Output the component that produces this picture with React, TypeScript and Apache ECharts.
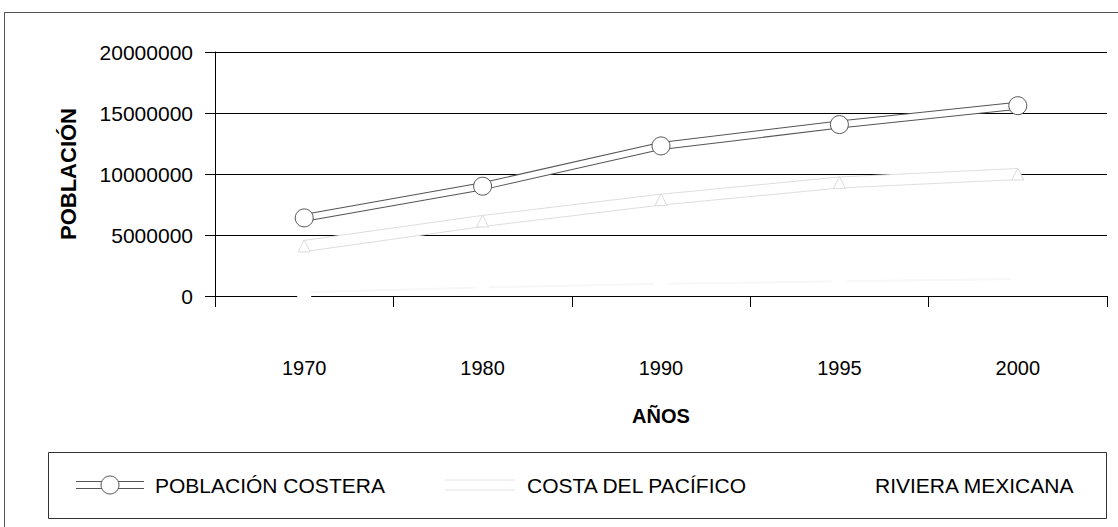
import React, { useEffect, useRef } from "react";
import * as echarts from "echarts";

const years = ["1970", "1980", "1990", "1995", "2000"];
const poblacionCostera = [6400000, 9000000, 12300000, 14050000, 15600000];
const costaPacifico = [4100000, 6150000, 7900000, 9300000, 10000000];
const rivieraMexicana = [300000, 700000, 1000000, 1200000, 1400000];
const yTicks = [0, 5000000, 10000000, 15000000, 20000000];

const FONT = "'Liberation Sans', Arial, sans-serif";

export default function App() {
  const ref = useRef<HTMLDivElement>(null);
  useEffect(() => {
    document.body.style.margin = "0";
    const chart = echarts.init(ref.current!, null, { renderer: "svg" });
    const legendItem = (name: string, textLeft: number) => ({
      data: [name],
      left: textLeft - 6,
      top: 475,
      padding: 0,
      itemWidth: 1,
      itemHeight: 1,
      itemGap: 0,
      selectedMode: false,
      itemStyle: { opacity: 0 },
      lineStyle: { opacity: 0 },
      textStyle: { fontFamily: FONT, fontSize: 21, color: "#000" },
    });
    chart.setOption({
      animation: false,
      backgroundColor: "#fff",
      textStyle: { fontFamily: FONT },
      grid: { left: 215, right: 11, top: 52, bottom: 231 },
      xAxis: {
        type: "category",
        data: years,
        boundaryGap: true,
        axisLine: { lineStyle: { color: "#000", width: 1 } },
        axisTick: { show: true, length: 11, lineStyle: { color: "#000" } },
        axisLabel: { margin: 62, fontSize: 20, color: "#000", fontFamily: FONT },
        name: "AÑOS",
        nameLocation: "middle",
        nameGap: 110,
        nameTextStyle: { fontSize: 20, fontWeight: "bold", color: "#000", fontFamily: FONT },
      },
      yAxis: {
        type: "value",
        min: yTicks[0],
        max: yTicks[yTicks.length - 1],
        interval: yTicks[1] - yTicks[0],
        axisLine: { show: true, lineStyle: { color: "#000", width: 1 } },
        axisTick: { show: true, length: 10, lineStyle: { color: "#000" } },
        splitLine: { show: true, lineStyle: { color: "#000", width: 1 } },
        axisLabel: {
          margin: 22,
          fontSize: 21,
          color: "#000",
          fontFamily: FONT,
          formatter: (v: number) => String(v),
        },
        name: "POBLACIÓN",
        nameLocation: "middle",
        nameRotate: 90,
        nameGap: 136,
        nameTextStyle: { fontSize: 22, fontWeight: "bold", color: "#000", fontFamily: FONT },
      },
      legend: [
        legendItem("POBLACIÓN COSTERA", 154),
        legendItem("COSTA DEL PACÍFICO", 526),
        legendItem("RIVIERA MEXICANA", 874),
      ],
      series: [
        {
          name: "_costa_outline",
          type: "line",
          data: costaPacifico,
          symbol: "none",
          silent: true,
          lineStyle: { color: "#dedede", width: 12 },
        },
        {
          name: "COSTA DEL PACÍFICO",
          type: "line",
          data: costaPacifico,
          symbol: "triangle",
          symbolSize: 12,
          itemStyle: { color: "#fff", borderColor: "#dcdcdc", borderWidth: 1 },
          lineStyle: { color: "#fff", width: 10 },
        },
        {
          name: "RIVIERA MEXICANA",
          type: "line",
          data: rivieraMexicana,
          symbol: "rect",
          symbolSize: 14,
          itemStyle: { color: "#fff", borderColor: "#fff", borderWidth: 0 },
          lineStyle: { color: "#f7f7f7", width: 2 },
        },
        {
          name: "_pob_outline",
          type: "line",
          data: poblacionCostera,
          symbol: "none",
          silent: true,
          lineStyle: { color: "#555", width: 8 },
        },
        {
          name: "POBLACIÓN COSTERA",
          type: "line",
          data: poblacionCostera,
          symbol: "circle",
          symbolSize: 18,
          itemStyle: { color: "#fff", borderColor: "#555", borderWidth: 1 },
          lineStyle: { color: "#fff", width: 6 },
        },
      ],
      graphic: [
        { type: "line", shape: { x1: 4.5, y1: 12, x2: 4.5, y2: 527 }, style: { stroke: "#555", lineWidth: 1 } },
        { type: "line", shape: { x1: 4, y1: 12.5, x2: 1118, y2: 12.5 }, style: { stroke: "#555", lineWidth: 1 } },
        { type: "rect", shape: { x: 48.5, y: 452.5, width: 1058, height: 66 }, style: { fill: "none", stroke: "#333", lineWidth: 1 } },
        { type: "line", shape: { x1: 76, y1: 481.5, x2: 144, y2: 481.5 }, style: { stroke: "#555", lineWidth: 1 } },
        { type: "line", shape: { x1: 76, y1: 488.5, x2: 144, y2: 488.5 }, style: { stroke: "#555", lineWidth: 1 } },
        { type: "circle", shape: { cx: 110, cy: 485, r: 9 }, style: { fill: "#fff", stroke: "#555", lineWidth: 1 } },
        { type: "line", shape: { x1: 445, y1: 480, x2: 515, y2: 480 }, style: { stroke: "#e4e4e4", lineWidth: 1 } },
        { type: "line", shape: { x1: 445, y1: 490, x2: 515, y2: 490 }, style: { stroke: "#e4e4e4", lineWidth: 1 } },
      ],
    });
    return () => chart.dispose();
  }, []);
  return (
    <div
      ref={ref}
      style={{ position: "absolute", left: 0, top: 0, width: 1118, height: 527 }}
    />
  );
}
